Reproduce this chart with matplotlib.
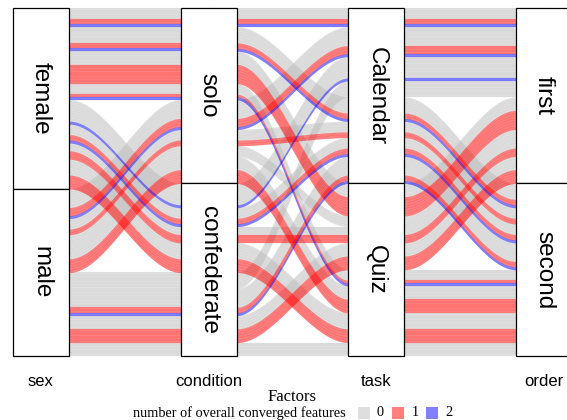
import numpy as np
import pandas as pd
import matplotlib.pyplot as plt
from matplotlib.patches import Rectangle

# axes of the alluvial plot, top level listed first
axis_vars = ['sex', 'condition', 'task', 'order']
levels = {
    'sex': ['female', 'male'],
    'condition': ['solo', 'confederate'],
    'task': ['Calendar', 'Quiz'],
    'order': ['first', 'second'],
}

# one entry per combination; features = number of converged features per participant
sex = ['female'] * 8 + ['male'] * 8
condition = (['solo'] * 4 + ['confederate'] * 4) * 2
task = (['Calendar'] * 2 + ['Quiz'] * 2) * 4
order = ['first', 'second'] * 8
features = [
    [0, 0, 0, 0, 1, 1, 2],
    [0, 0, 0, 0, 0, 0, 1, 1, 2],
    [0, 0, 0, 0, 0, 1, 1, 1, 1, 1, 1, 1],
    [0, 0, 0, 0, 1, 2],
    [0, 0, 0, 0, 0, 0, 0, 0, 2],
    [0, 0, 0, 0, 1, 1, 2],
    [0, 0, 0, 1, 1, 1],
    [0, 0, 0, 0, 0, 0, 1, 1, 1, 1, 1],
    [0, 0, 0, 0, 0, 0, 0, 1, 1, 1, 2],
    [0, 0, 0, 0, 1, 1],
    [0, 0, 0, 0],
    [0, 0, 0, 0, 0, 1, 1, 1, 1, 1],
    [0, 0, 0, 0, 0, 0],
    [0, 0, 0, 0, 0, 0, 0, 1, 1, 2],
    [0, 0, 0, 0, 0, 1, 1, 1, 1, 1],
    [0, 0, 0, 0, 0],
]
fill_colors = {0: '#BEBEBE', 1: '#FF0000', 2: '#0000FF'}

rows = []
for k in range(len(features)):
    for f in features[k]:
        rows.append({'sex': sex[k], 'condition': condition[k], 'task': task[k],
                     'order': order[k], 'fill': f})
df = pd.DataFrame(rows)
df['row'] = np.arange(len(df))
N = len(df)
for v in axis_vars:
    df[v + '_code'] = df[v].map({lv: i for i, lv in enumerate(levels[v])})

# zigzag lode guidance
guidance = [[0, 1, 2, 3], [1, 0, 2, 3], [2, 3, 1, 0], [3, 2, 1, 0]]
tops = np.zeros((N, 4))
for i, g in enumerate(guidance):
    keys = [axis_vars[j] + '_code' for j in g] + ['row']
    srt = df.sort_values(keys)
    tops[srt['row'].values, i] = N - np.arange(N)

px_per_x = 167.67
fig = plt.figure(figsize=(5.67, 4.2), dpi=100)
ax = fig.add_axes([0, 0, 1, 1])
ax.set_xlim(1 - 41 / px_per_x, 1 + (567 - 41) / px_per_x)
ax.set_ylim(N - 412 * N / 348, N + 8 * N / 348)
ax.axis('off')

hw = 1 / 6
draw_order = df.sort_values(['fill', 'row'])['row'].values
for r in draw_order:
    c = fill_colors[df.loc[r, 'fill']]
    for j in range(3):
        x0, x1 = j + 1 + hw, j + 2 - hw
        xs = np.linspace(j + 1, j + 2, 120)
        t = np.clip((xs - x0) / (x1 - x0), 0, 1)
        s = 3 * t ** 2 - 2 * t ** 3
        top = tops[r, j] + (tops[r, j + 1] - tops[r, j]) * s
        ax.fill_between(xs, top - 1, top, facecolor=c, edgecolor=c,
                        alpha=0.5, linewidth=0.12, zorder=1)

for i, v in enumerate(axis_vars):
    y = N
    for lv in levels[v]:
        n = (df[v] == lv).sum()
        ax.add_patch(Rectangle((i + 1 - hw, y - n), 2 * hw, n, facecolor='white',
                               edgecolor='black', linewidth=0.9, zorder=3))
        ax.text(i + 1, y - n / 2, lv, rotation=-90, ha='center', va='center',
                fontsize=17.5, family='Liberation Sans', zorder=4)
        y -= n
    fig.text((41 + i * px_per_x) / 567, 1 - 382 / 420, v, ha='center', va='center',
             fontsize=12, family='Liberation Sans')

fig.text(292 / 567, 1 - 397 / 420, 'Factors', ha='center', va='center',
         fontsize=12, family='Liberation Serif')
fig.text(133 / 567, 1 - 413 / 420, 'number of overall converged features',
         ha='left', va='center', fontsize=10.3, family='Liberation Serif')
key_x = [358, 392, 426]
lab_x = [380, 415, 449]
for f in range(3):
    fig.patches.append(Rectangle((key_x[f] / 567, 1 - 419 / 420), 12 / 567, 12 / 420,
                                 transform=fig.transFigure, facecolor=fill_colors[f],
                                 alpha=0.5, edgecolor='none'))
    fig.text(lab_x[f] / 567, 1 - 413 / 420, str(f), ha='center', va='center',
             fontsize=10.3, family='Liberation Serif')

fig.savefig('out.png', dpi=100)
